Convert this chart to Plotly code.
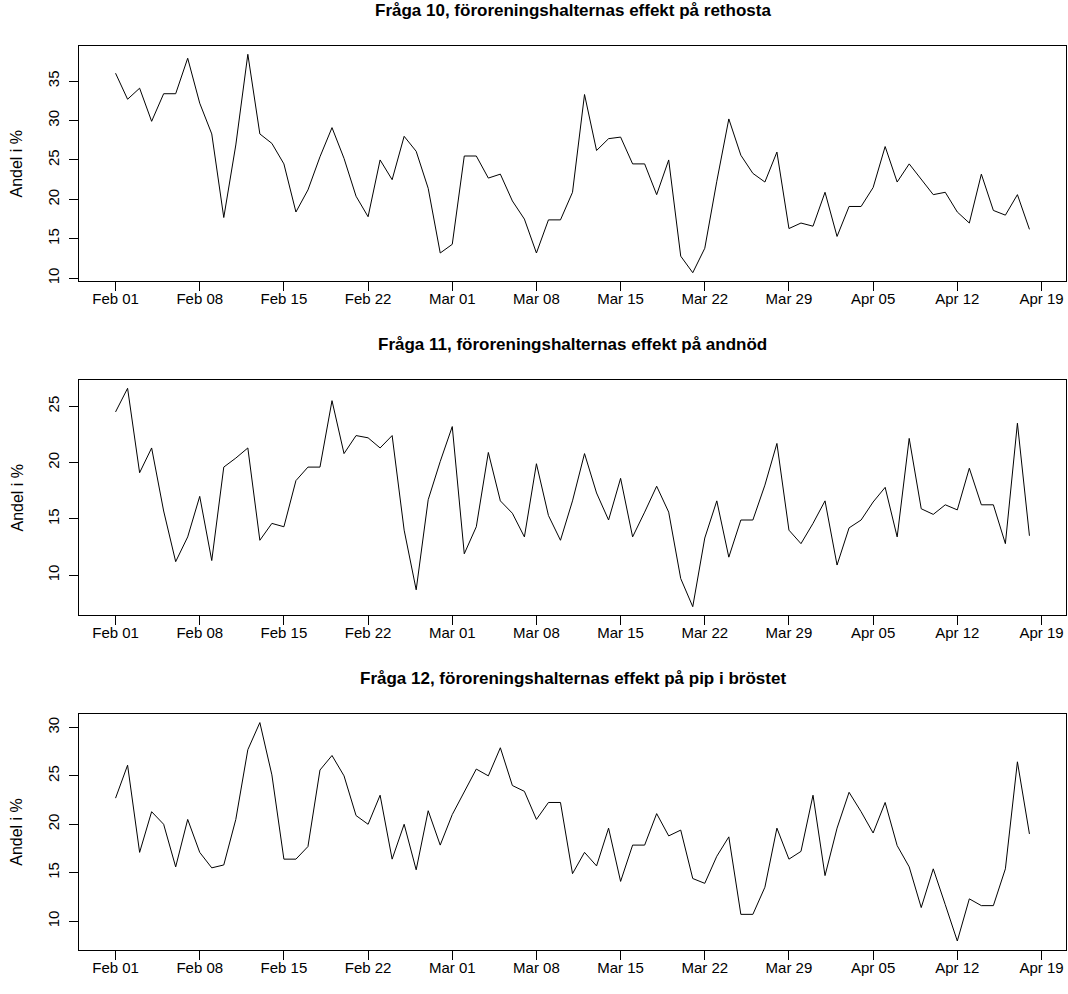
import pandas as pd
import plotly.graph_objects as go

# ---- data (daily shares, Feb 01 - Apr 18) ----
start_date = "2011-02-01"
n_days = 77
dates = pd.date_range(start_date, periods=n_days, freq="D")

rethosta = [36.0, 32.7, 34.1, 29.9, 33.4, 33.4, 37.9, 32.2, 28.3, 17.7,
            26.9, 38.4, 28.3, 27.1, 24.5, 18.4, 21.2, 25.4, 29.1, 25.2,
            20.4, 17.8, 25.0, 22.5, 28.0, 26.1, 21.4, 13.2, 14.3, 25.5,
            25.5, 22.7, 23.2, 19.8, 17.5, 13.2, 17.4, 17.4, 20.9, 33.3,
            26.2, 27.7, 27.9, 24.5, 24.5, 20.6, 25.0, 12.8, 10.7, 13.8,
            22.3, 30.2, 25.6, 23.3, 22.2, 26.0, 16.3, 17.0, 16.6, 20.9,
            15.3, 19.1, 19.1, 21.5, 26.7, 22.2, 24.5, 22.6, 20.6, 20.9,
            18.4, 17.0, 23.2, 18.6, 18.0, 20.6, 16.2]

andnod = [24.5, 26.6, 19.1, 21.3, 15.7, 11.2, 13.4, 17.0, 11.3, 19.6,
          20.4, 21.3, 13.1, 14.6, 14.3, 18.4, 19.6, 19.6, 25.5, 20.8,
          22.4, 22.2, 21.3, 22.4, 14.0, 8.7, 16.7, 20.1, 23.2, 11.9,
          14.3, 20.9, 16.6, 15.5, 13.4, 19.9, 15.3, 13.1, 16.6, 20.8,
          17.3, 14.9, 18.6, 13.4, 15.6, 17.9, 15.6, 9.7, 7.2, 13.3,
          16.6, 11.6, 14.9, 14.9, 18.0, 21.7, 14.0, 12.8, 14.6, 16.6,
          10.9, 14.2, 14.9, 16.5, 17.8, 13.4, 22.15, 15.9, 15.4, 16.25,
          15.8, 19.5, 16.25, 16.25, 12.8, 23.5, 13.5]

pip = [22.7, 26.1, 17.1, 21.3, 20.0, 15.6, 20.5, 17.1, 15.5, 15.8,
       20.5, 27.7, 30.5, 25.1, 16.4, 16.4, 17.7, 25.6, 27.1, 25.0,
       20.9, 20.0, 23.0, 16.4, 20.0, 15.3, 21.4, 17.85, 21.0, 23.4,
       25.7, 25.0, 27.9, 24.0, 23.4, 20.5, 22.25, 22.25, 14.9, 17.1,
       15.7, 19.6, 14.1, 17.85, 17.85, 21.1, 18.8, 19.4, 14.4, 13.9,
       16.7, 18.7, 10.7, 10.7, 13.5, 19.6, 16.4, 17.2, 23.0, 14.7,
       19.6, 23.3, 21.3, 19.1, 22.25, 17.8, 15.6, 11.4, 15.4, 11.7,
       7.95, 12.3, 11.6, 11.6, 15.4, 26.45, 19.0]

titles = ["Fråga 10, föroreningshalternas effekt på rethosta",
          "Fråga 11, föroreningshalternas effekt på andnöd",
          "Fråga 12, föroreningshalternas effekt på pip i bröstet"]
y_label = "Andel i %"

tick_dates = ["2011-02-01", "2011-02-08", "2011-02-15", "2011-02-22",
              "2011-03-01", "2011-03-08", "2011-03-15", "2011-03-22",
              "2011-03-29", "2011-04-05", "2011-04-12", "2011-04-19"]
tick_labels = ["Feb 01", "Feb 08", "Feb 15", "Feb 22", "Mar 01", "Mar 08",
               "Mar 15", "Mar 22", "Mar 29", "Apr 05", "Apr 12", "Apr 19"]

series = [rethosta, andnod, pip]

# ---- layout geometry (pixels) ----
W, H = 1068, 994
L = 79
R = W - 1066
box_tops = [45.7, 380.7, 716.0]
box_h = 236.6
title_y = [11, 346, 681]
ylab_x = 17

FONT = "Liberation Sans, Arial, sans-serif"

fig = go.Figure()

x0 = dates[0] - pd.Timedelta(days=0.04 * (n_days - 1))
x1 = dates[-1] + pd.Timedelta(days=0.04 * (n_days - 1))

for k, vals in enumerate(series):
    idx = "" if k == 0 else str(k + 1)
    fig.add_trace(go.Scatter(x=dates, y=vals, mode="lines",
                             line=dict(color="black", width=1),
                             xaxis="x" + idx, yaxis="y" + idx,
                             showlegend=False, hoverinfo="x+y"))
    lo, hi = min(vals), max(vals)
    pad = 0.04 * (hi - lo)
    top = box_tops[k]
    bot = top + box_h
    dom = [1 - bot / H, 1 - top / H]
    common = dict(showline=True, linecolor="black", linewidth=1, mirror=True,
                  ticks="outside", ticklen=9, tickwidth=1, tickcolor="black",
                  showgrid=False, zeroline=False,
                  tickfont=dict(family=FONT, size=15, color="black"))
    fig.update_layout(**{
        "xaxis" + idx: dict(type="date", range=[x0, x1], domain=[0, 1],
                            anchor="y" + idx,
                            tickvals=tick_dates, ticktext=tick_labels,
                            ticklabelstandoff=-5,
                            **common),
        "yaxis" + idx: dict(range=[lo - pad, hi + pad], domain=dom,
                            anchor="x" + idx, tick0=0, dtick=5,
                            tickangle=-90, ticklabelstandoff=4, **common),
    })
    fig.add_annotation(text="<b>" + titles[k] + "</b>", xref="paper", yref="paper",
                       x=0.5, y=1 - title_y[k] / H, xanchor="center", yanchor="middle",
                       showarrow=False, font=dict(family=FONT, size=17, color="black"))
    fig.add_annotation(text=y_label, xref="paper", yref="paper",
                       x=(ylab_x - L) / (W - L - R), y=1 - (top + box_h / 2) / H,
                       xanchor="center", yanchor="middle", textangle=-90,
                       showarrow=False, font=dict(family=FONT, size=16, color="black"))

fig.update_layout(width=W, height=H, margin=dict(l=L, r=R, t=0, b=0),
                  paper_bgcolor="white", plot_bgcolor="white",
                  font=dict(family=FONT, size=15, color="black"))

fig.write_html("out.html",
               config={"displayModeBar": False},
               post_script="document.body.style.margin='0';"
                           "document.body.style.overflow='hidden';")
